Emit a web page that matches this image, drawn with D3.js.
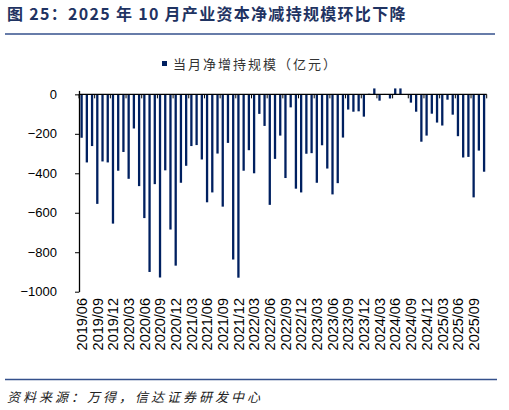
<!DOCTYPE html>
<html>
<head>
<meta charset="utf-8">
<script src="https://cdn.jsdelivr.net/npm/d3@7"></script>
<style>
  body { margin: 0; background: #fff; }
  text { font-family: "Liberation Sans", Arial, sans-serif; }
  .cjk { font-family: "Noto Sans CJK SC", sans-serif; }
</style>
</head>
<body>
<svg id="chart" width="509" height="410"></svg>
<script>
// monthly net increase of holdings by industrial capital (100m yuan), 2019/06 onwards
var netChange = [-220, -345, -262, -555, -340, -345, -655, -387, -292, -428,
                 -173, -465, -627, -900, -455, -928, -385, -685, -868, -448,
                 -362, -262, -257, -330, -547, -497, -300, -569, -246, -837,
                 -929, -387, -283, -400, -99, -160, -560, -327, -209, -424,
                 -66, -478, -497, -301, -298, -448, -258, -376, -507, -450,
                 -219, -77, -88, -86, -113, 3, 30, -32, 2, -21,
                 30, 30, -3, -42, -88, -240, -209, -98, -143, -158,
                 -27, -103, -212, -320, -317, -522, -285, -392];

// one label every 3 bars
var tickLabels = ['2019/06', '2019/09', '2019/12', '2020/03', '2020/06', '2020/09', '2020/12',
                  '2021/03', '2021/06', '2021/09', '2021/12', '2022/03', '2022/06', '2022/09',
                  '2022/12', '2023/03', '2023/06', '2023/09', '2023/12', '2024/03', '2024/06',
                  '2024/09', '2024/12', '2025/03', '2025/06', '2025/09'];

var yTicks = [0, -200, -400, -600, -800, -1000];

var svg = d3.select('#chart');
// plot box (note: "top" is reserved on window, so use other names)
var plotL = 79, plotR = 486.7, plotT = 90.4, plotB = 291.7;

var x = d3.scaleBand()
    .domain(d3.range(netChange.length))
    .range([plotL, plotR])
    .paddingInner(0.56)
    .paddingOuter(0.28);

var step = (plotR - plotL) / netChange.length;

var y = d3.scaleLinear()
    .domain([-1000, 20])
    .range([plotB, plotT]);

// title + rule
svg.append('text')
    .attr('class', 'cjk')
    .attr('x', 7).attr('y', 20)
    .style('font-size', '16px')
    .style('font-weight', 'bold')
    .style('letter-spacing', '1.3px')
    .attr('fill', '#1f3362')
    .text('图 25：2025 年 10 月产业资本净减持规模环比下降');

svg.append('line')
    .attr('x1', 5).attr('x2', 495)
    .attr('y1', 34).attr('y2', 34)
    .attr('stroke', '#34508c').attr('stroke-width', 1.6);

// legend
svg.append('rect')
    .attr('x', 162).attr('y', 61)
    .attr('width', 5).attr('height', 5)
    .attr('fill', '#002060');
svg.append('text')
    .attr('class', 'cjk')
    .attr('x', 173).attr('y', 68.5)
    .style('font-size', '13px')
    .style('letter-spacing', '2px')
    .attr('fill', '#333')
    .text('当月净增持规模（亿元）');

// bars
svg.append('g')
    .selectAll('rect')
    .data(netChange)
    .enter()
    .append('rect')
    .attr('x', (d, i) => x(i))
    .attr('width', x.bandwidth())
    .attr('y', d => y(Math.max(0, d)))
    .attr('height', d => Math.abs(y(d) - y(0)))
    .attr('fill', '#002060');

// y axis
var yAxis = svg.append('g')
    .attr('transform', 'translate(' + plotL + ',0)')
    .call(d3.axisLeft(y).tickValues(yTicks).tickSize(4).tickSizeOuter(0)
        .tickFormat(d => d3.format('d')(d).replace('-', '\u2212')));
yAxis.select('.domain').attr('stroke', '#000').attr('stroke-width', 1.3);
yAxis.selectAll('.tick line').attr('stroke', '#000');
yAxis.selectAll('.tick text')
    .attr('x', -22)
    .style('font-size', '13px')
    .style('font-family', '"Liberation Sans", Arial, sans-serif')
    .attr('fill', '#000');

// x axis along zero
svg.append('line')
    .attr('x1', plotL).attr('x2', plotR)
    .attr('y1', y(0)).attr('y2', y(0))
    .attr('stroke', '#000').attr('stroke-width', 1.3);

var tickIdx = d3.range(0, netChange.length + 1, 3);
svg.append('g')
    .selectAll('line')
    .data(tickIdx)
    .enter()
    .append('line')
    .attr('x1', d => plotL + d * step)
    .attr('x2', d => plotL + d * step)
    .attr('y1', y(0))
    .attr('y2', y(0) + 4)
    .attr('stroke', '#000');

svg.append('g')
    .selectAll('text')
    .data(tickLabels)
    .enter()
    .append('text')
    .attr('transform', (d, i) => 'translate(' + (x(i * 3) + x.bandwidth() / 2) + ',298) rotate(-90)')
    .attr('text-anchor', 'end')
    .attr('dy', '0.36em')
    .style('font-size', '14.5px')
    .attr('fill', '#000')
    .text(d => d);

// footer
svg.append('line')
    .attr('x1', 5).attr('x2', 497)
    .attr('y1', 379.5).attr('y2', 379.5)
    .attr('stroke', '#34508c').attr('stroke-width', 1.6);

svg.append('text')
    .attr('class', 'cjk')
    .attr('x', 7).attr('y', 402)
    .style('font-size', '13px')
    .style('font-style', 'italic')
    .style('letter-spacing', '3px')
    .attr('fill', '#222')
    .text('资料来源：万得，信达证券研发中心');
</script>
</body>
</html>
